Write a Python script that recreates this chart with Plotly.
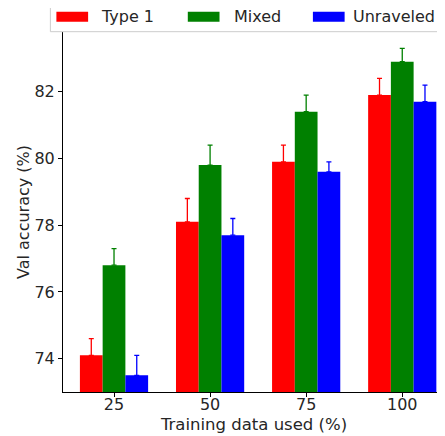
import plotly.graph_objects as go

categories = ["25", "50", "75", "100"]
series_names = ["Type 1", "Mixed", "Unraveled"]
type1_vals = [74.1, 78.1, 79.9, 81.9]
type1_err = [0.5, 0.7, 0.5, 0.5]
mixed_vals = [76.8, 79.8, 81.4, 82.9]
mixed_err = [0.5, 0.6, 0.5, 0.4]
unrav_vals = [73.5, 77.7, 79.6, 81.7]
unrav_err = [0.6, 0.5, 0.3, 0.5]
colors = ["#ff0000", "#008000", "#0000ff"]

O = 8  # page body margin offset
W, H = 445 - O, 436 - O
# desired page-pixel positions of the plot area, converted to figure pixels
L, R, T, B = 63.3 - O, 445.0 - O, 32.0 - O, 392.3 - O
FONT = "DejaVu Sans"
TXT = "#262626"

def px(x):
    return (x - O - L) / (R - L)

def py(y):
    return (B - (y - O)) / (B - T)

xs = list(range(len(categories)))
fig = go.Figure()
for name, vals, errs, col in zip(series_names, [type1_vals, mixed_vals, unrav_vals],
                                  [type1_err, mixed_err, unrav_err], colors):
    fig.add_trace(go.Bar(
        x=xs, y=vals, name=name, marker=dict(color=col, line=dict(width=0)),
        error_y=dict(type="data", array=errs, arrayminus=[0] * len(errs), symmetric=False,
                     color=col, thickness=1.3, width=2.5),
        showlegend=False,
    ))

# manual legend
shapes = [dict(type="rect", xref="paper", yref="paper",
               x0=px(50.7), x1=px(470), y0=py(31.7), y1=py(-10),
               line=dict(color="#cccccc", width=1), fillcolor="rgba(255,255,255,0.8)", layer="above")]
annotations = []
patch_x = [56.7, 188.0, 313.0]
text_pos = [(101.7, "left"), (234.0, "left"), (437.5, "right")]
for name, col, x0, (tx, anchor) in zip(series_names, colors, patch_x, text_pos):
    shapes.append(dict(type="rect", xref="paper", yref="paper",
                       x0=px(x0), x1=px(x0 + 31.7), y0=py(21.7), y1=py(11.7),
                       line=dict(width=0), fillcolor=col, layer="above"))
    annotations.append(dict(xref="paper", yref="paper",
                            x=px(tx - 2) if anchor == "left" else px(tx), y=py(16.5),
                            text=name, showarrow=False, xanchor=anchor, yanchor="middle",
                            font=dict(family=FONT, size=16, color=TXT)))

fig.update_layout(
    width=W, height=H,
    margin=dict(l=L, r=W - R, t=T, b=H - B, pad=0),
    plot_bgcolor="white", paper_bgcolor="white",
    barmode="group", bargap=0.29, bargroupgap=0,
    font=dict(family=FONT, size=16, color=TXT),
    shapes=shapes, annotations=annotations,
    xaxis=dict(range=[-0.531, 3.445], tickvals=xs, ticktext=categories,
               showline=True, linecolor="black", linewidth=1, mirror=False,
               ticks="outside", ticklen=4, tickcolor="black", showgrid=False, zeroline=False,
               ticklabelstandoff=-6,
               title=dict(text="Training data used (%)", standoff=5,
                          font=dict(family=FONT, size=16.5, color=TXT))),
    yaxis=dict(range=[73.0, 83.79], tickvals=[74, 76, 78, 80, 82],
               showline=True, linecolor="black", linewidth=1, mirror=False,
               ticks="outside", ticklen=4, tickcolor="black", showgrid=False, zeroline=False,
               title=dict(text="Val accuracy (%)", standoff=0,
                          font=dict(family=FONT, size=16, color=TXT))),
)

fig.write_html("out.html")
